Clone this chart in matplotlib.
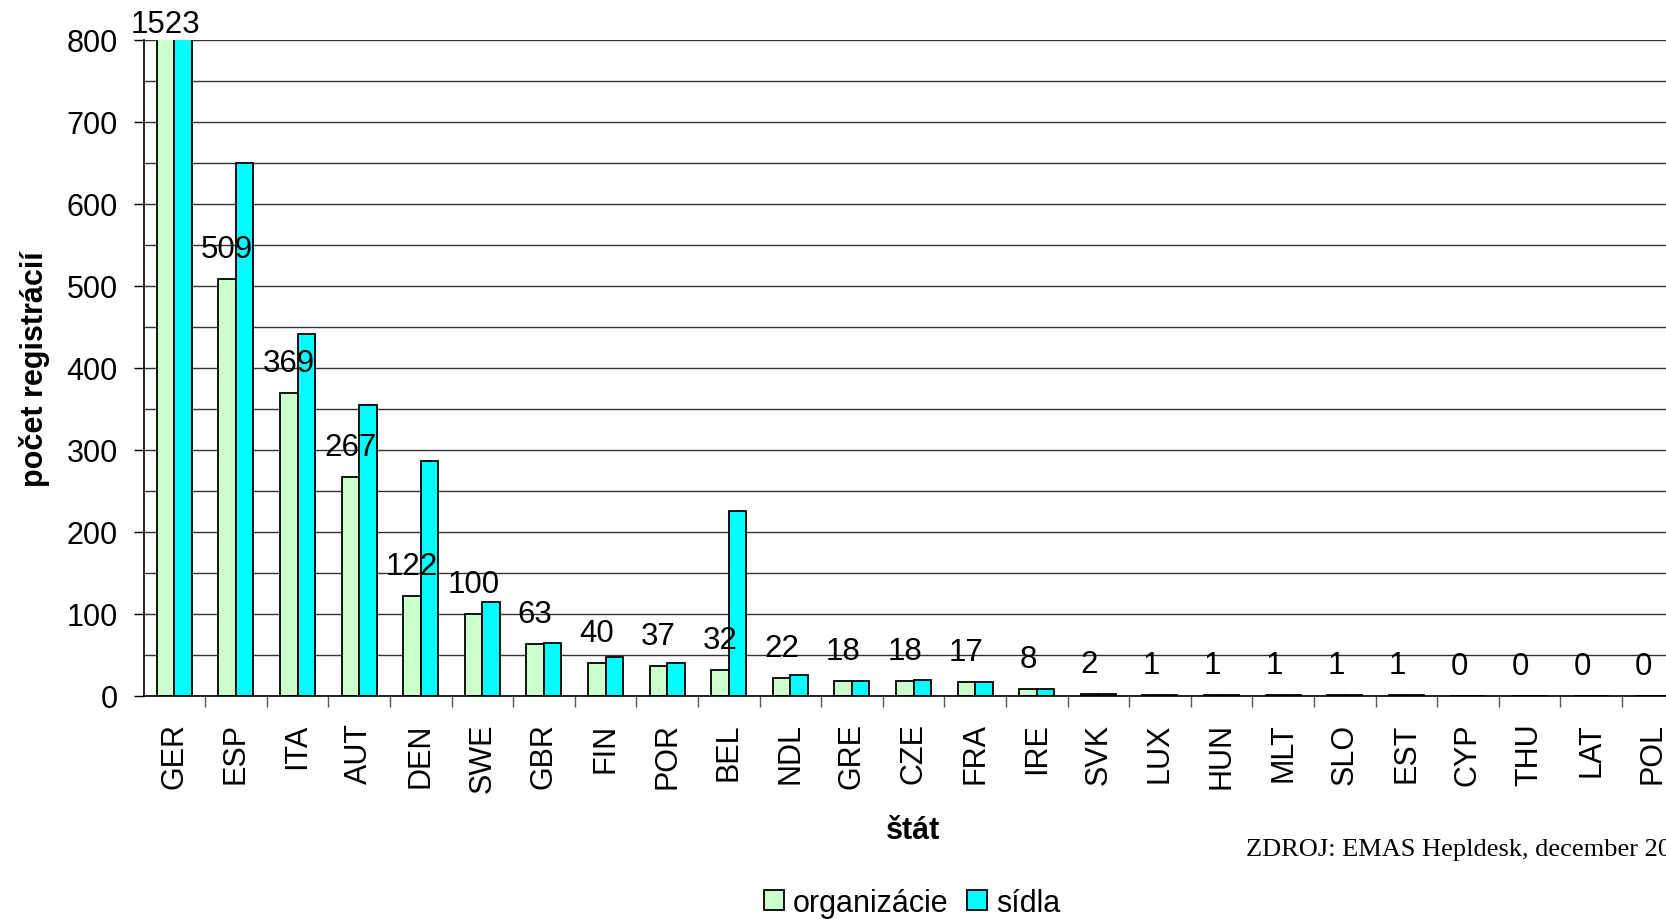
import matplotlib
matplotlib.use("Agg")
import matplotlib.pyplot as plt
import numpy as np
from matplotlib.patches import Patch
from matplotlib.ticker import MultipleLocator

states = ["GER", "ESP", "ITA", "AUT", "DEN", "SWE", "GBR", "FIN", "POR", "BEL",
          "NDL", "GRE", "CZE", "FRA", "IRE", "SVK", "LUX", "HUN", "MLT", "SLO",
          "EST", "CYP", "THU", "LAT", "POL"]
organizacie = [1523, 509, 369, 267, 122, 100, 63, 40, 37, 32,
               22, 18, 18, 17, 8, 2, 1, 1, 1, 1,
               1, 0, 0, 0, 0]
sidla = [1800, 650, 442, 355, 287, 115, 65, 47, 40, 226,
         26, 18, 20, 17, 8, 2, 1, 1, 1, 1,
         1, 0, 0, 0, 0]
y_top = 800

plt.rcParams["font.family"] = ["Liberation Sans", "DejaVu Sans"]

W, H = 1666, 920
fig = plt.figure(figsize=(W / 100, H / 100), dpi=100)
# plot area runs past the right edge, as in the cropped original
ax = fig.add_axes([143.5 / W, 1 - 697 / H, 1540 / W, 656 / H])

x = np.arange(len(states))
w = 0.285
ax.bar(x - w / 2, organizacie, w, color="#CCFFCC", edgecolor="black", linewidth=1.3, zorder=3)
ax.bar(x + w / 2, sidla, w, color="#00FFFF", edgecolor="black", linewidth=1.3, zorder=3)

ax.set_xlim(-0.5, len(states) - 0.5)
ax.set_ylim(0, y_top)

ax.yaxis.set_major_locator(MultipleLocator(100))
ax.yaxis.set_minor_locator(MultipleLocator(50))
ax.grid(axis="y", which="both", color="#333333", linewidth=1.0, zorder=0)
ax.set_axisbelow(True)
ax.tick_params(axis="y", which="major", direction="out", length=7.5, width=1, pad=11, labelsize=22)
ax.tick_params(axis="y", which="minor", length=0)

ax.set_xticks(x)
ax.set_xticklabels(states, rotation=90)
ax.set_xticks(x[:-1] + 0.5, minor=True)
ax.tick_params(axis="x", which="major", length=0, pad=19, labelsize=22)
ax.tick_params(axis="x", which="minor", direction="out", length=8, width=1, color="#555555")

for side in ("top", "right"):
    ax.spines[side].set_visible(False)
for side in ("left", "bottom"):
    ax.spines[side].set_color("black")
    ax.spines[side].set_linewidth(1.2)
ax.spines["bottom"].set_zorder(4)

for i, v in enumerate(organizacie):
    off = 21.6 if v <= y_top else 11.5
    ax.annotate(str(v), (x[i] - w / 2, min(v, y_top)), xytext=(0, off),
                textcoords="offset points", ha="center", va="center",
                fontsize=22.5, annotation_clip=False)

fig.text(35 / W, 1 - 369 / H, "počet registrácií", rotation=90, ha="center", va="center",
         fontsize=22, fontweight="bold")
fig.text(913 / W, 1 - 831 / H, "štát", ha="center", va="center", fontsize=22, fontweight="bold")
fig.text(1246 / W, 1 - 856 / H, "ZDROJ: EMAS Hepldesk, december 2006", ha="left", va="baseline",
         fontsize=19, family=["Liberation Serif", "DejaVu Serif"])

handles = [Patch(facecolor="#CCFFCC", edgecolor="black", linewidth=1.3, label="organizácie"),
           Patch(facecolor="#00FFFF", edgecolor="black", linewidth=1.3, label="sídla")]
fig.legend(handles=handles, loc="center", bbox_to_anchor=(912 / W, 1 - 904 / H), ncol=2,
           frameon=False, fontsize=22, handlelength=0.65, handleheight=0.65,
           handletextpad=0.3, columnspacing=0.6, borderpad=0)

fig.savefig("out.png", dpi=100)
